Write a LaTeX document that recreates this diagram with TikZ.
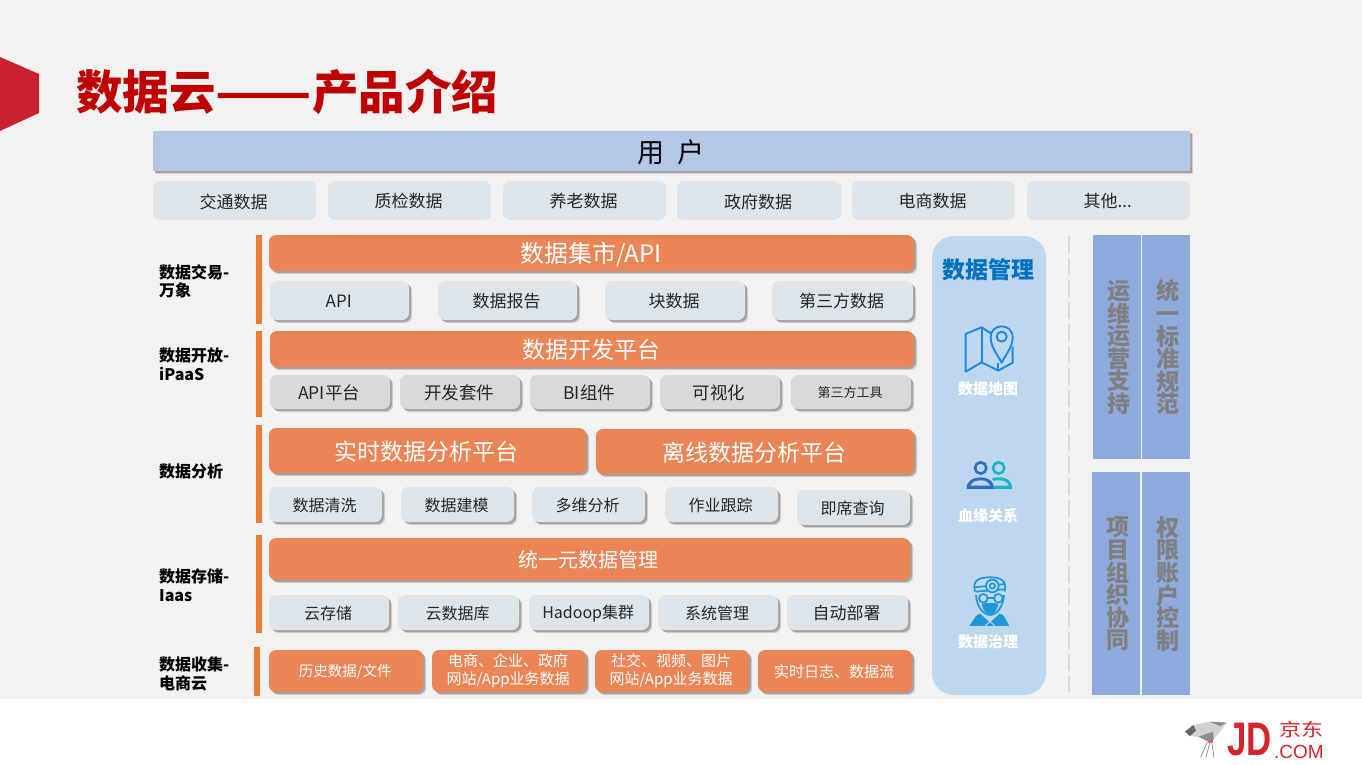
\documentclass[tikz,border=0pt]{standalone}
\usepackage{fontspec}
\setmainfont{Noto Sans CJK SC}
\newfontfamily\logofont{Liberation Sans}
\usetikzlibrary{shadows,calc}
\definecolor{pagebg}{HTML}{F2F2F2}
\definecolor{hdrblue}{HTML}{B4C7E7}
\definecolor{paleblue}{HTML}{DEE5EA}
\definecolor{greybox}{HTML}{D9D9D9}
\definecolor{orangebox}{HTML}{EC8556}
\definecolor{orangebar}{HTML}{ED7D31}
\definecolor{panelblue}{HTML}{BDD7EE}
\definecolor{sideblue}{HTML}{8FAADC}
\definecolor{sidetext}{HTML}{7F7F7F}
\definecolor{titlered}{HTML}{C00000}
\definecolor{flagred}{HTML}{C9212F}
\definecolor{jdred}{HTML}{D5242C}
\definecolor{inktext}{HTML}{262626}
\definecolor{mgmtblue}{HTML}{0070C0}
\definecolor{iconblue}{HTML}{1E88E5}
\definecolor{icondark}{HTML}{2E6FC4}
\definecolor{iconteal}{HTML}{1CB5C8}
\definecolor{icondoc}{HTML}{1E96D8}
\newcommand{\fsz}[1]{\fontsize{#1pt}{#1pt}\selectfont}
\tikzset{
  softshadow/.style={
    drop shadow={shadow xshift=3.2pt,shadow yshift=-3.2pt,fill=black,opacity=.13},
    drop shadow={shadow xshift=2pt,shadow yshift=-2pt,fill=black,opacity=.22}},
  basebox/.style={rounded corners=7pt,inner sep=0pt,align=center,text=inktext},
  flat/.style={basebox,fill=paleblue},
  palebox/.style={basebox,fill=paleblue,softshadow},
  greyb/.style={basebox,fill=greybox,softshadow},
  orangeb/.style={basebox,fill=orangebox,softshadow,text=white},
  sidebox/.style={inner sep=0pt,fill=sideblue},
  sidelabel/.style={inner sep=0pt,align=center,text=sidetext,font=\fontsize{23pt}{22.6pt}\selectfont\bfseries},
  leftlabel/.style={anchor=north west,inner sep=0pt,align=left,text=black,font=\fontsize{16pt}{18.5pt}\selectfont\bfseries},
  barb/.style={inner sep=0pt,fill=orangebar},
  mgmtlabel/.style={inner sep=0pt,text=white,font=\fsz{15}\bfseries},
}
% name x1 y1 x2 y2 style text
\newcommand{\bx}[7]{%
  \pgfmathsetmacro{\cxv}{(#2+#4)/2}\pgfmathsetmacro{\cyv}{(#3+#5)/2}%
  \pgfmathsetmacro{\wv}{#4-#2}\pgfmathsetmacro{\hv}{#5-#3}%
  \node[#6,minimum width=\wv pt,minimum height=\hv pt] (#1) at (\cxv,\cyv) {\kern-1.6pt\raisebox{-1pt}[\height][\depth]{#7}};}
\newcommand{\twoline}[2]{\begin{tabular}{@{}c@{}}#1\\#2\end{tabular}}
\begin{document}
\begin{tikzpicture}[x=1pt,y=-1pt]
\useasboundingbox (0,0) rectangle (1362,765);
\fill[pagebg] (0,0) rectangle (1362,699);
\fill[white] (0,699) rectangle (1362,765);
\fill[flagred] (0,57) -- (39,74) -- (39,113) -- (0,131) -- cycle;
\node[anchor=west,inner sep=0pt,text=titlered,font=\fsz{46.5}\bfseries] (title) at (76,92) {数据云\scalebox{1.21}[1]{——}产品介绍};

\bx{user}{153}{131}{1190}{171}{inner sep=0pt,fill=hdrblue,softshadow,text=black,font=\fsz{27}}{用\hspace{13pt}户}
\bx{c1}{153}{181}{316}{220}{flat,font=\fsz{17}}{交通数据}
\bx{c2}{328}{181}{491}{220}{flat,font=\fsz{17}}{质检数据}
\bx{c3}{503}{181}{666}{220}{flat,font=\fsz{17}}{养老数据}
\bx{c4}{677}{181}{841}{220}{flat,font=\fsz{17}}{政府数据}
\bx{c5}{852}{181}{1015}{220}{flat,font=\fsz{17}}{电商数据}
\bx{c6}{1027}{181}{1190}{220}{flat,font=\fsz{17}}{其他...}

\node[leftlabel] (l1) at (159,264) {数据交易-\\万象};
\node[leftlabel] (l2) at (159,348) {数据开放-\\iPaaS};
\node[leftlabel] (l3) at (159,464) {数据分析};
\node[leftlabel] (l4) at (159,569) {数据存储-\\Iaas};
\node[leftlabel] (l5) at (159,657) {数据收集-\\电商云};

\bx{b1}{256}{235}{262}{324}{barb}{}
\bx{b2}{256}{331}{262}{417}{barb}{}
\bx{b3}{256}{425}{262}{523}{barb}{}
\bx{b4}{256}{535}{262}{633}{barb}{}
\bx{b5}{254}{647}{260}{696}{barb}{}

\bx{o1}{269}{235}{914}{271}{orangeb,font=\fsz{24}}{数据集市/API}
\bx{a1}{270}{281}{409}{320}{palebox,font=\fsz{17}}{API}
\bx{a2}{438}{281}{577}{320}{palebox,font=\fsz{17}}{数据报告}
\bx{a3}{605}{281}{745}{320}{palebox,font=\fsz{17}}{块数据}
\bx{a4}{772}{281}{913}{320}{palebox,font=\fsz{17}}{第三方数据}

\bx{o2}{270}{331}{914}{367}{orangeb,font=\fsz{23}}{数据开发平台}
\bx{p1}{270}{375}{390}{409}{greyb,font=\fsz{17.5}}{API平台}
\bx{p2}{400}{375}{520}{409}{greyb,font=\fsz{17.5}}{开发套件}
\bx{p3}{530}{375}{650}{409}{greyb,font=\fsz{17.5}}{BI组件}
\bx{p4}{660}{375}{780}{409}{greyb,font=\fsz{17.5}}{可视化}
\bx{p5}{791}{375}{911}{409}{greyb,font=\fsz{13}}{第三方工具}

\bx{o3}{269}{428}{586}{473}{orangeb,font=\fsz{23}}{实时数据分析平台}
\bx{o4}{596}{429}{914}{474}{orangeb,font=\fsz{23}}{离线数据分析平台}
\bx{q1}{269}{487}{382}{522}{palebox,font=\fsz{16}}{数据清洗}
\bx{q2}{401}{487}{514}{522}{palebox,font=\fsz{16}}{数据建模}
\bx{q3}{532}{487}{645}{522}{palebox,font=\fsz{16}}{多维分析}
\bx{q4}{665}{487}{778}{522}{palebox,font=\fsz{16}}{作业跟踪}
\bx{q5}{797}{490}{910}{525}{palebox,font=\fsz{16}}{即席查询}

\bx{o5}{269}{538}{910}{580}{orangeb,font=\fsz{20}}{统一元数据管理}
\bx{s1}{269}{595}{389}{630}{palebox,font=\fsz{16}}{云存储}
\bx{s2}{398}{595}{519}{630}{palebox,font=\fsz{16}}{云数据库}
\bx{s3}{529}{595}{649}{630}{palebox,font=\fsz{16}}{Hadoop集群}
\bx{s4}{658}{595}{778}{630}{palebox,font=\fsz{16}}{系统管理}
\bx{s5}{787}{595}{908}{630}{palebox,font=\fsz{17}}{自动部署}

\bx{r1}{269}{650}{423}{692}{orangeb,font=\fontsize{14.5pt}{18.5pt}\selectfont}{历史数据/文件}
\bx{r2}{432}{650}{586}{692}{orangeb,font=\fontsize{15pt}{18.5pt}\selectfont}{\twoline{电商、企业、政府}{网站/App业务数据}}
\bx{r3}{595}{650}{749}{692}{orangeb,font=\fontsize{15pt}{18.5pt}\selectfont}{\twoline{社交、视频、图片}{网站/App业务数据}}
\bx{r4}{758}{650}{912}{692}{orangeb,font=\fontsize{15pt}{18.5pt}\selectfont}{实时日志、数据流}

\bx{panel}{932}{236}{1046}{695}{inner sep=0pt,rounded corners=22pt,fill=panelblue}{}
\node[inner sep=0pt,text=mgmtblue,font=\fsz{23}\bfseries] (mgmt) at (988,269.5) {数据管理};
\node[mgmtlabel] (m1) at (988,389) {数据地图};
\node[mgmtlabel] (m2) at (988,516) {血缘关系};
\node[mgmtlabel] (m3) at (988,642) {数据治理};

% map icon
\begin{scope}[shift={(930,230)},x=.3333pt,y=-.3333pt,line width=1.9pt,line join=round,draw=iconblue]
 \draw (185,312) -- (155,292) -- (107,312) -- (107,425) -- (155,397) -- (205,422) -- (248,398) -- (248,350);
 \draw (155,292) -- (155,397);
 \draw (203,400) -- (203,422);
 \draw (215,398) .. controls (200,370) and (182,350) .. (182,322) .. controls (182,278) and (248,278) .. (248,322) .. controls (248,350) and (230,370) .. (215,398) -- cycle;
 \draw (215,320) circle[radius=15];
\end{scope}
% people icon
\begin{scope}[shift={(930,230)},x=.3333pt,y=-.3333pt,line width=2.6pt]
 \draw[iconteal] (206,714) circle[radius=17];
 \fill[iconteal] (188,777) -- (246,777) .. controls (248,750) and (228,742) .. (205,742) .. controls (198,742) and (192,743) .. (186,746) -- (190,752) .. controls (196,751) and (200,751) .. (205,751) .. controls (222,751) and (234,756) .. (236,767) -- (188,767) -- cycle;
 \draw[icondark] (152,714) circle[radius=17];
 \fill[icondark] (110,777) -- (190,777) -- (190,764) .. controls (186,750) and (170,742) .. (152,742) .. controls (130,742) and (108,752) .. (110,777) -- cycle;
 \fill[panelblue] (122,767) .. controls (124,757) and (138,751) .. (152,751) .. controls (166,751) and (176,757) .. (180,767) -- cycle;
\end{scope}
% doctor icon
\begin{scope}[shift={(930,230)},x=.3333pt,y=-.3333pt,line width=1.7pt,draw=icondoc,line join=round]
 \fill[icondoc] (118,1188) -- (138,1158) -- (152,1150) -- (180,1178) -- (208,1150) -- (222,1158) -- (238,1188) -- cycle;
 \draw[panelblue,line width=1pt] (152,1150) -- (195,1188) (208,1150) -- (165,1188);
 \draw (135,1085) .. controls (125,1050) and (150,1042) .. (180,1042) .. controls (210,1042) and (232,1050) .. (224,1085);
 \draw (135,1072) -- (225,1062);
 \draw (137,1085) -- (224,1078);
 \draw[fill=panelblue] (187,1068) circle[radius=19];
 \draw (187,1068) circle[radius=8];
 \draw (160,1105) circle[radius=13];
 \draw (205,1105) circle[radius=13];
 \draw (173,1105) -- (192,1105);
 \draw (138,1095) .. controls (140,1130) and (160,1155) .. (180,1155) .. controls (200,1155) and (220,1130) .. (222,1095);
 \fill[icondoc] (155,1122) .. controls (170,1118) and (190,1118) .. (205,1122) .. controls (200,1145) and (190,1153) .. (180,1153) .. controls (170,1153) and (160,1145) .. (155,1122) -- cycle;
\end{scope}

\coordinate (dashtop) at (1069,236);
\coordinate (dashbot) at (1069,692);
\draw[greybox,line width=2pt,dash pattern=on 17pt off 5pt] (dashtop) -- (dashbot);

\bx{k1}{1093}{235}{1141}{459}{sidebox}{}
\bx{k2}{1142}{235}{1190}{459}{sidebox}{}
\bx{k3}{1092}{472}{1140}{695}{sidebox}{}
\bx{k4}{1142}{472}{1190}{695}{sidebox}{}
\node[sidelabel] (t1) at (1119,347.5) {运\\维\\运\\营\\支\\持};
\node[sidelabel] (t2) at (1168,347.5) {统\\一\\标\\准\\规\\范};
\node[sidelabel] (t3) at (1118,584) {项\\目\\组\\织\\协\\同};
\node[sidelabel] (t4) at (1168,584) {权\\限\\账\\户\\控\\制};

% logo
\begin{scope}[shift={(1170,700)},x=.3333pt,y=-.3333pt]
 \draw[black!55,line width=.6pt] (112,125) -- (92,172) (120,125) -- (108,172) (125,125) -- (132,172);
 \fill[black!18] (45,95) -- (70,75) -- (120,65) -- (170,68) -- (150,95) -- (130,120) -- (115,125) -- (85,110) -- (60,108) -- cycle;
 \fill[black!60] (45,95) -- (70,75) -- (78,92) -- (60,108) -- cycle;
 \fill[black!45] (120,65) -- (170,68) -- (150,78) -- cycle;
 \fill[black!45] (85,110) -- (130,95) -- (130,120) -- (115,125) -- cycle;
 \fill[jdred!70] (113,120) rectangle (128,128);
\end{scope}
\node[inner sep=0pt,text=jdred,font=\logofont\fsz{47}\bfseries] (jd) at (1249.5,740) {\scalebox{.74}[1]{JD}};
\node[inner sep=0pt,text=jdred,font=\fsz{18}] (jdcn) at (1301,729.5) {\scalebox{1.22}[1]{京东}};
\node[inner sep=0pt,text=jdred,font=\logofont\fsz{19}] (jdcom) at (1299,752) {.COM};
\end{tikzpicture}
\end{document}
